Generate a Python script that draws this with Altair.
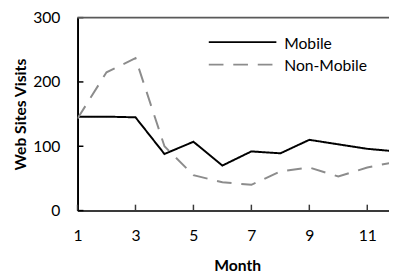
import altair as alt
import pandas as pd

# ---- data ----
MONTHS = [1, 2, 3, 4, 5, 6, 7, 8, 9, 10, 11, 12]
MOBILE = [146, 146, 145, 88, 107, 70, 92, 89, 110, 103, 96, 92]
NON_MOBILE = [143, 215, 237, 100, 55, 44, 40, 61, 67, 53, 67, 76]
SERIES = ["Mobile", "Non-Mobile"]
Y_TICKS = [0, 100, 200, 300]
X_TICKS = [1, 3, 5, 7, 9, 11]

df = pd.DataFrame({
    "Month": MONTHS * 2,
    "Visits": MOBILE + NON_MOBILE,
    "Series": [SERIES[0]] * len(MONTHS) + [SERIES[1]] * len(MONTHS),
})

W, H = 318, 197
FONT = "Lato"
GRAY = "#8c8c8c"
DASH = [15, 10]

xscale = alt.Scale(domain=[1, 11.75], nice=False, zero=False)
yscale = alt.Scale(domain=[0, 300], nice=False)

color_scale = alt.Scale(domain=SERIES, range=["black", GRAY])
dash_scale = alt.Scale(domain=SERIES, range=[[1, 0], DASH])

x_axis = alt.Axis(
    values=X_TICKS, ticks=False, grid=False, domainColor="#3a3a3a", domainWidth=2,
    labelFont=FONT, labelFontSize=16, labelColor="black", labelPadding=18,
    labelFlush=False, title="Month", titleFont=FONT, titleFontSize=16,
    titleFontWeight="bold", titleColor="black", titleX=163, titleY=61,
    titleAlign="center", titleBaseline="alphabetic")
y_axis = alt.Axis(
    values=Y_TICKS, ticks=False, grid=False, domainColor="black", domainWidth=2,
    labelFont=FONT, labelFontSize=16, labelColor="black", labelPadding=18,
    labelFlush=False, title="Web Sites Visits", titleFont=FONT, titleFontSize=16,
    titleFontWeight="bold", titleColor="black", titleX=-53, titleY=98.5,
    titleAngle=270, titleAlign="center", titleBaseline="alphabetic")

lines = alt.Chart(df).mark_line(strokeWidth=2, clip=True).encode(
    x=alt.X("Month:Q", scale=xscale, axis=x_axis),
    y=alt.Y("Visits:Q", scale=yscale, axis=y_axis),
    color=alt.Color("Series:N", scale=color_scale, legend=None),
    strokeDash=alt.StrokeDash("Series:N", scale=dash_scale, legend=None),
)

ytick_df = pd.DataFrame({"Visits": Y_TICKS})
xtick_df = pd.DataFrame({"Month": X_TICKS})

yticks = alt.Chart(ytick_df).mark_rule(color="black", strokeWidth=1.5).encode(
    y=alt.Y("Visits:Q", scale=yscale, axis=y_axis),
    x=alt.value(0), x2=alt.value(6),
)
xticks = alt.Chart(xtick_df).mark_rule(color="#3a3a3a", strokeWidth=1.5).encode(
    x=alt.X("Month:Q", scale=xscale, axis=x_axis),
    y=alt.value(H), y2=alt.value(H - 6),
)

one = pd.DataFrame({"a": [0]})
top_line = alt.Chart(one).mark_rule(color="#595959", strokeWidth=2).encode(
    x=alt.value(0), x2=alt.value(W), y=alt.value(0),
)

# legend
leg_mobile = alt.Chart(one).mark_rule(color="black", strokeWidth=2).encode(
    x=alt.value(134), x2=alt.value(203), y=alt.value(25),
)
leg_non = alt.Chart(one).mark_rule(color=GRAY, strokeWidth=2, strokeDash=DASH).encode(
    x=alt.value(134), x2=alt.value(203), y=alt.value(48),
)
leg_t1 = alt.Chart(one).mark_text(font=FONT, fontSize=16, align="left",
                                  baseline="alphabetic", color="black",
                                  text=SERIES[0]).encode(
    x=alt.value(211), y=alt.value(32),
)
leg_t2 = alt.Chart(one).mark_text(font=FONT, fontSize=16, align="left",
                                  baseline="alphabetic", color="black",
                                  text=SERIES[1]).encode(
    x=alt.value(211), y=alt.value(55),
)

chart = alt.layer(
    lines, yticks, xticks, top_line, leg_mobile, leg_non, leg_t1, leg_t2
).properties(
    width=W, height=H,
    padding={"left": 71, "top": 7, "right": 0, "bottom": 65},
    autosize=alt.AutoSizeParams(type="none"),
).configure_view(stroke=None)

chart.save("out.html", embed_options={"renderer": "svg", "actions": False})
